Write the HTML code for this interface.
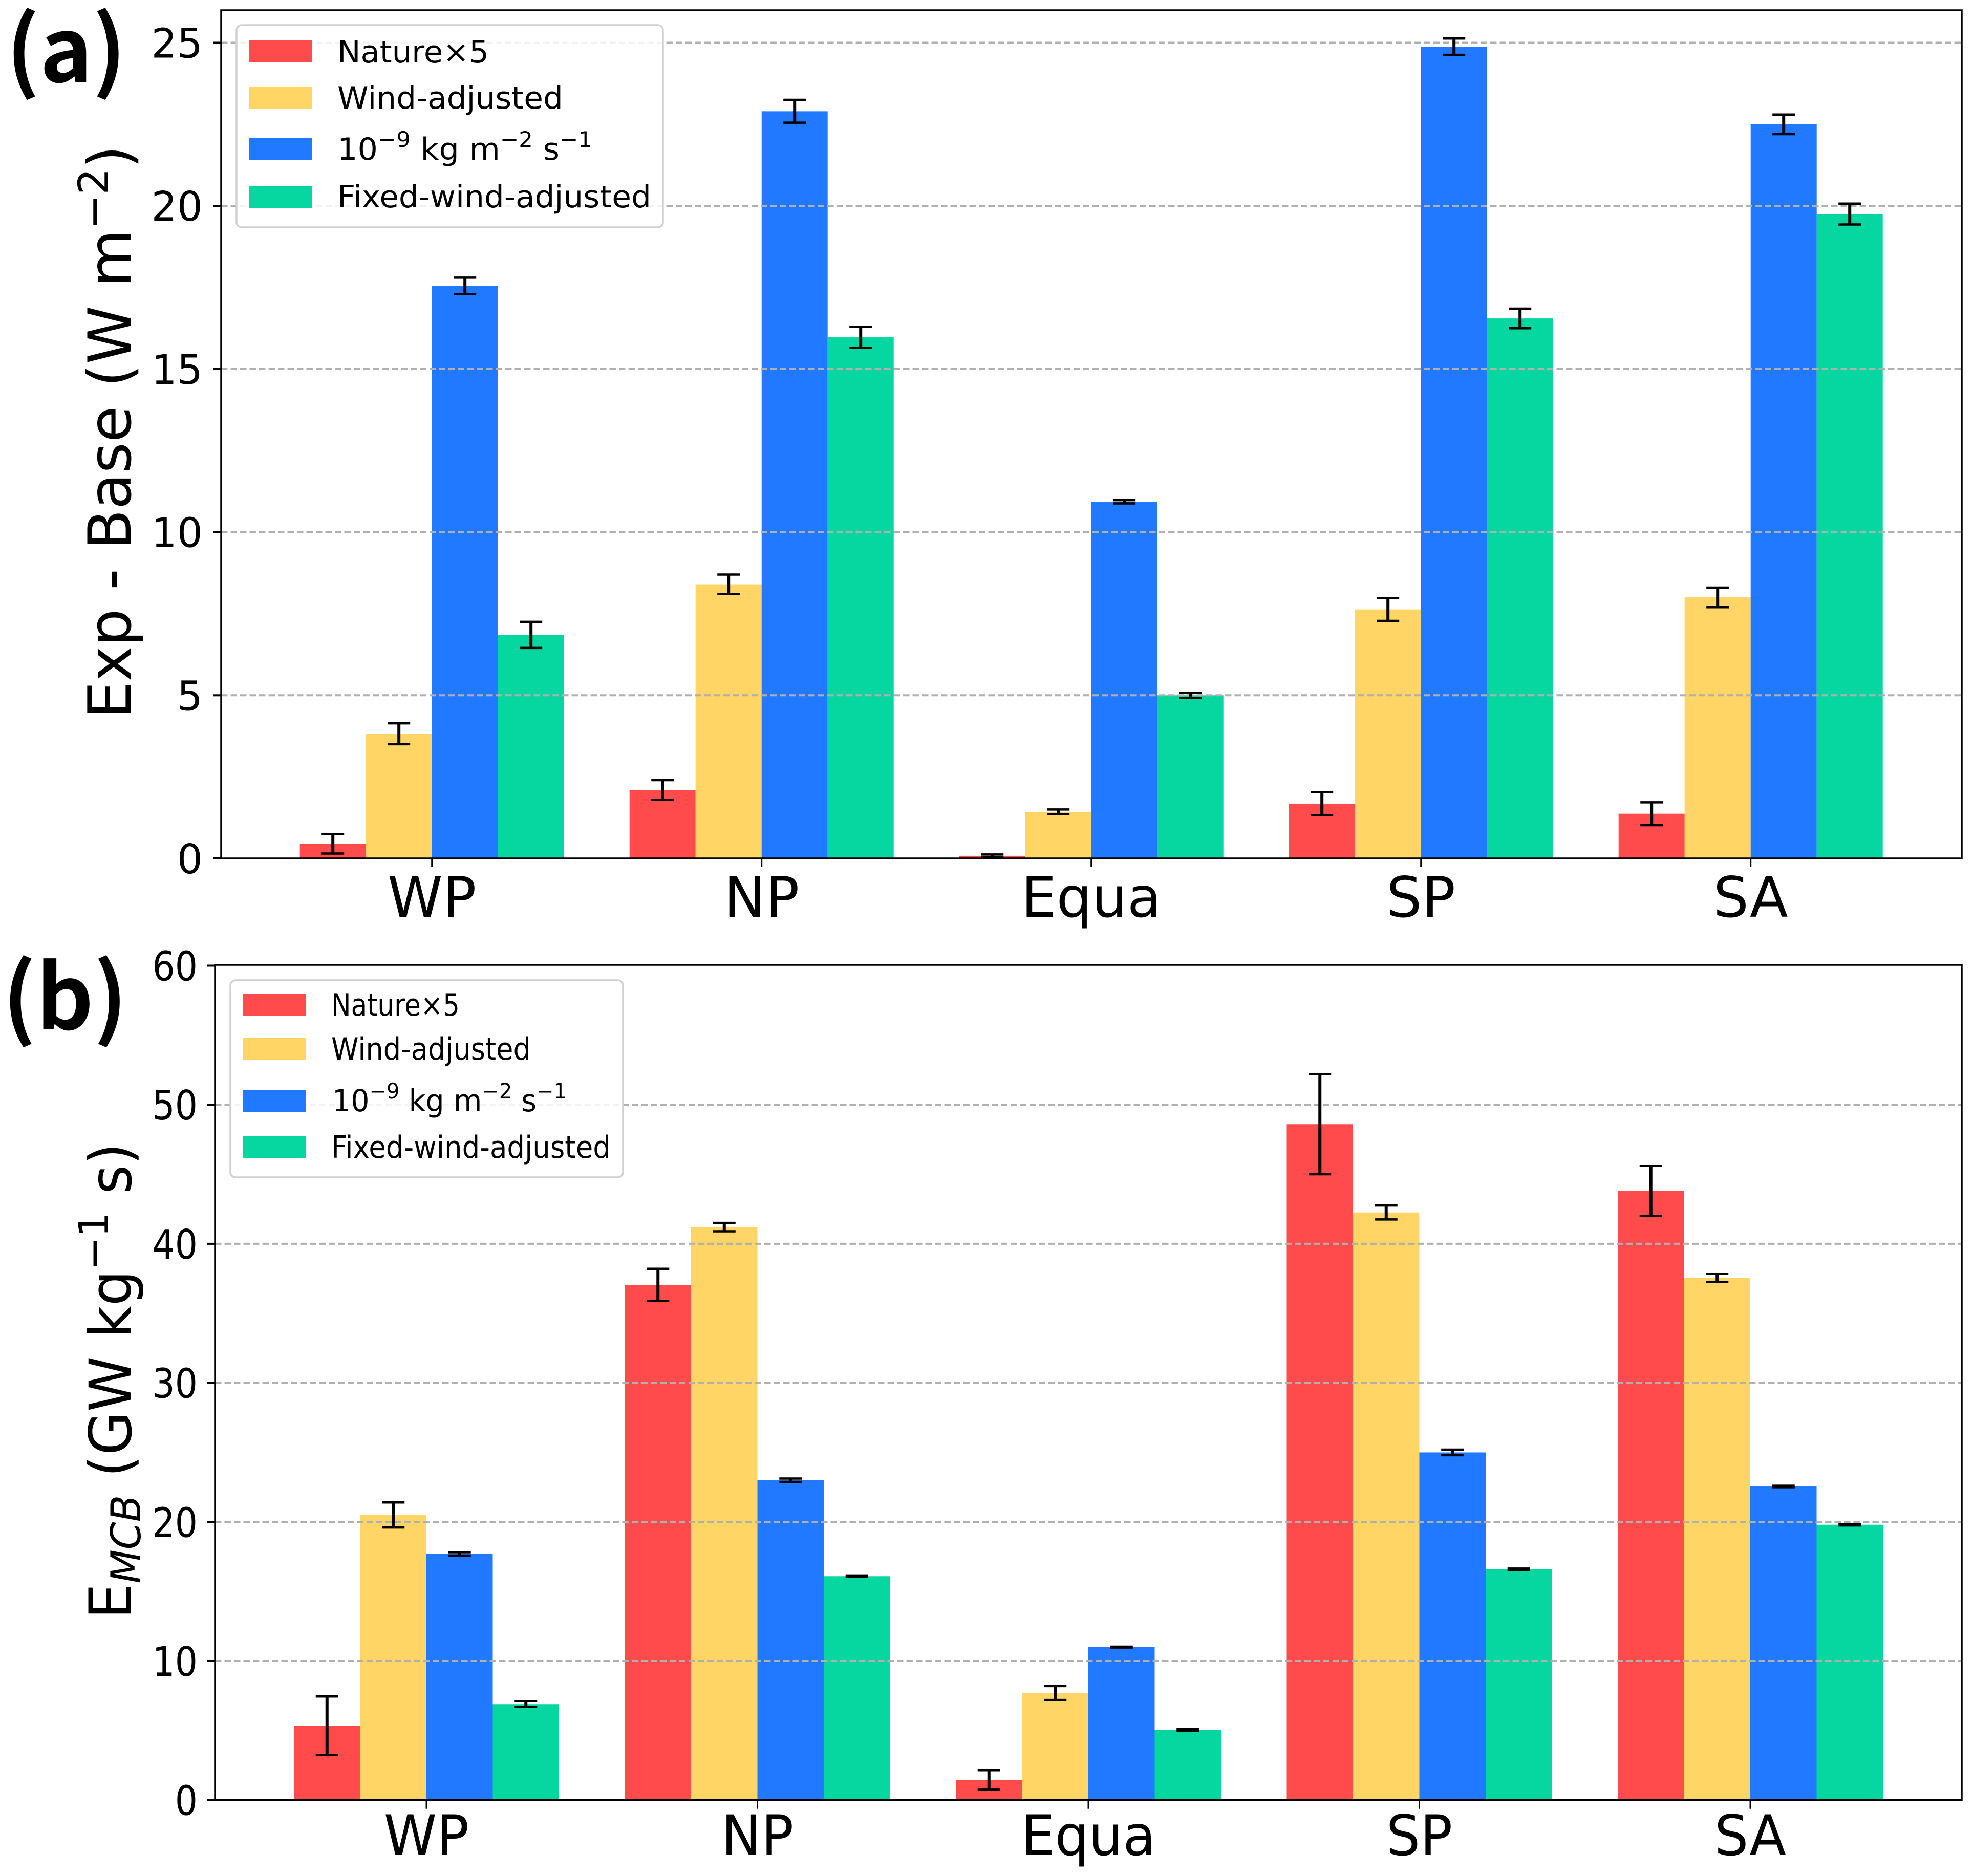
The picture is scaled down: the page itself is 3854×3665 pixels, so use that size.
<!DOCTYPE html>
<html lang="en">
<head>
<meta charset="utf-8">
<title>Exp - Base and E_MCB bar charts</title>
<style>
html,body{margin:0;padding:0;background:#fff;}
svg{display:block;}
text{font-family:"DejaVu Sans","Liberation Sans",sans-serif;fill:#000;}
.panel-tag{font-family:"Noto Sans CJK JP","Liberation Sans",sans-serif;font-weight:700;}
</style>
</head>
<body>
<svg id="figure" xmlns="http://www.w3.org/2000/svg" width="3854" height="3665" viewBox="0 0 3854 3665">
  <rect x="0" y="0" width="3854" height="3665" fill="#ffffff"/>
  <g id="chart-a"></g>
  <g id="chart-b"></g>

  <text class="panel-tag" x="12" y="160" font-size="174">(a)</text>
  <text class="panel-tag" x="5" y="2011" font-size="174">(b)</text>

  <text class="fit" data-w="1120" transform="translate(255,1404) rotate(-90)" font-size="116">Exp - Base (W m<tspan dy="-44" font-size="81">−2</tspan><tspan dy="44">)</tspan></text>
  <text class="fit" data-w="930" transform="translate(256,3163) rotate(-90)" font-size="114">E<tspan dy="18" font-size="80" font-style="italic">MCB</tspan><tspan dy="-18"> (GW kg</tspan><tspan dy="-45" font-size="80">−1</tspan><tspan dy="45"> s)</tspan></text>

  <g>
    <rect x="462" y="49" width="833" height="395" rx="10" ry="10" fill="#ffffff" fill-opacity="0.85" stroke="#d0d0d0" stroke-width="3.5"/>
    <rect x="487" y="79" width="122" height="43" fill="#ff4b4b"/>
    <rect x="487" y="169" width="122" height="43" fill="#ffd566"/>
    <rect x="487" y="270" width="122" height="43" fill="#2079ff"/>
    <rect x="487" y="363" width="122" height="43" fill="#06d6a0"/>
    <text class="fit" data-w="296" transform="translate(659,122)" font-size="60">Nature×5</text>
    <text class="fit" data-w="441" transform="translate(659,212)" font-size="60">Wind-adjusted</text>
    <text class="fit" data-w="498" transform="translate(659,312)" font-size="60">10<tspan dy="-25" font-size="42">−9</tspan><tspan dy="25"> kg m</tspan><tspan dy="-25" font-size="42">−2</tspan><tspan dy="25"> s</tspan><tspan dy="-25" font-size="42">−1</tspan></text>
    <text class="fit" data-w="613" transform="translate(659,405)" font-size="60">Fixed-wind-adjusted</text>
  </g>

  <g>
    <rect x="450" y="1915" width="767" height="385" rx="10" ry="10" fill="#ffffff" fill-opacity="0.85" stroke="#d0d0d0" stroke-width="3.5"/>
    <rect x="474" y="1941" width="123" height="43" fill="#ff4b4b"/>
    <rect x="474" y="2028" width="123" height="43" fill="#ffd566"/>
    <rect x="474" y="2129" width="123" height="43" fill="#2079ff"/>
    <rect x="474" y="2219" width="123" height="43" fill="#06d6a0"/>
    <text class="fit" data-w="251" transform="translate(647,1984)" font-size="60">Nature×5</text>
    <text class="fit" data-w="390" transform="translate(647,2070)" font-size="60">Wind-adjusted</text>
    <text class="fit" data-w="458" transform="translate(649,2171)" font-size="60">10<tspan dy="-25" font-size="42">−9</tspan><tspan dy="25"> kg m</tspan><tspan dy="-25" font-size="42">−2</tspan><tspan dy="25"> s</tspan><tspan dy="-25" font-size="42">−1</tspan></text>
    <text class="fit" data-w="546" transform="translate(647,2262)" font-size="60">Fixed-wind-adjusted</text>
  </g>
</svg>

<script>
// ---- data ----
const categories = ["WP", "NP", "Equa", "SP", "SA"];
const seriesKeys = ["nature", "wind-adjusted", "emission-rate", "fixed-wind-adjusted"];
const seriesColors = ["#ff4b4b", "#ffd566", "#2079ff", "#06d6a0"];

// Panel (a): Exp - Base (W m-2), one row per series
const aNature = [0.45, 2.1, 0.08, 1.68, 1.37];
const aWind   = [3.82, 8.4, 1.43, 7.63, 8.0];
const aRate   = [17.55, 22.9, 10.93, 24.88, 22.5];
const aFixed  = [6.85, 15.97, 5.0, 16.55, 19.75];
const aNatureErr = [0.3, 0.3, 0.04, 0.35, 0.35];
const aWindErr   = [0.32, 0.3, 0.07, 0.35, 0.3];
const aRateErr   = [0.25, 0.35, 0.05, 0.25, 0.3];
const aFixedErr  = [0.4, 0.32, 0.08, 0.3, 0.32];
const aTicks = [0, 5, 10, 15, 20, 25];

// Panel (b): E_MCB (GW kg-1 s)
const bNature = [5.35, 37.05, 1.45, 48.6, 43.8];
const bWind   = [20.5, 41.2, 7.7, 42.25, 37.55];
const bRate   = [17.7, 23.0, 11.0, 25.0, 22.55];
const bFixed  = [6.9, 16.1, 5.05, 16.6, 19.8];
const bNatureErr = [2.1, 1.15, 0.7, 3.6, 1.8];
const bWindErr   = [0.9, 0.3, 0.5, 0.5, 0.3];
const bRateErr   = [0.12, 0.12, 0.03, 0.2, 0.05];
const bFixedErr  = [0.2, 0.05, 0.05, 0.05, 0.05];
const bTicks = [0, 10, 20, 30, 40, 50, 60];

const SVGNS = "http://www.w3.org/2000/svg";

function make(tag, attrs, parent) {
  const el = document.createElementNS(SVGNS, tag);
  for (const k in attrs) el.setAttribute(k, attrs[k]);
  parent.appendChild(el);
  return el;
}

function drawPanel(cfg) {
  const root = document.getElementById(cfg.id);
  const xScale = (i) => cfg.tick0 + i * cfg.step;
  const yScale = (v) => cfg.y0 - v * cfg.unit;
  const barW = cfg.barW;

  // bars
  cfg.values.forEach(function (vals, s) {
    vals.forEach(function (v, c) {
      const y = yScale(v);
      const bar = make("rect", {
        x: xScale(c) + (s - 2) * barW,
        y: y,
        width: barW,
        height: cfg.y0 - y,
        fill: seriesColors[s]
      }, root);
      
      
    });
  });

  // grid lines, drawn over bars
  cfg.ticks.forEach(function (t) {
    if (t === 0 || t === cfg.yMaxAtTop) return;
    const line = make("line", {
      x1: cfg.left, x2: cfg.right, y1: yScale(t), y2: yScale(t),
      stroke: "#b0b0b0", "stroke-width": 4, "stroke-dasharray": "12.5 6"
    }, root);
    
    
  });

  // error bars
  cfg.values.forEach(function (vals, s) {
    vals.forEach(function (v, c) {
      const cx = xScale(c) + (s - 1.5) * barW;
      const g = make("g", { stroke: "#000", fill: "none" }, root);
      
      
      const hi = yScale(v + cfg.errors[s][c]);
      const lo = yScale(v - cfg.errors[s][c]);
      make("line", { x1: cx, x2: cx, y1: hi, y2: lo, "stroke-width": 6 }, g);
      make("line", { x1: cx - 22, x2: cx + 22, y1: hi, y2: hi, "stroke-width": 4.5 }, g);
      make("line", { x1: cx - 22, x2: cx + 22, y1: lo, y2: lo, "stroke-width": 4.5 }, g);
    });
  });

  // axes frame
  const frame = make("rect", {
    x: cfg.left, y: cfg.top, width: cfg.right - cfg.left, height: cfg.y0 - cfg.top,
    fill: "none", stroke: "#000", "stroke-width": 3.5
  }, root);
  
  

  // y ticks + labels
  cfg.ticks.forEach(function (t) {
    const y = yScale(t);
    const tick = make("line", {
      x1: cfg.left - 16, x2: cfg.left, y1: y, y2: y, stroke: "#000", "stroke-width": 4
    }, root);
    
    
    const label = make("text", {
      transform: "translate(" + cfg.yLabelRight + "," + (y + 29) + ") scale(" + cfg.yLabelScale + ",1)",
      "font-size": 79,
      "text-anchor": "end"
    }, root);
    label.textContent = String(t);
    
    
  });

  // x ticks + labels
  categories.forEach(function (name, c) {
    const x = xScale(c);
    const tick = make("line", {
      x1: x, x2: x, y1: cfg.y0, y2: cfg.y0 + 17, stroke: "#000", "stroke-width": 3
    }, root);
    
    
    const label = make("text", {
      transform: "translate(" + x + "," + cfg.xLabelBase + ") scale(" + cfg.xLabelScale + ",1)",
      "font-size": 109,
      "text-anchor": "middle"
    }, root);
    label.textContent = name;
    
    
  });
}

drawPanel({
  id: "chart-a",
  left: 432, right: 3832, top: 20, y0: 1677,
  tick0: 843.7, step: 644, barW: 129,
  unit: 63.74,
  ticks: aTicks,
  yMaxAtTop: null,
  values: [aNature, aWind, aRate, aFixed],
  errors: [aNatureErr, aWindErr, aRateErr, aFixedErr],
  yLabelRight: 396, yLabelScale: 1,
  xLabelBase: 1791, xLabelScale: 1
});

drawPanel({
  id: "chart-b",
  left: 420, right: 3832, top: 1885, y0: 3516.7,
  tick0: 833, step: 646.5, barW: 129.5,
  unit: 27.17,
  ticks: bTicks,
  yMaxAtTop: 60,
  values: [bNature, bWind, bRate, bFixed],
  errors: [bNatureErr, bWindErr, bRateErr, bFixedErr],
  yLabelRight: 386, yLabelScale: 0.88,
  xLabelBase: 3624, xLabelScale: 0.96
});

// squeeze labels to the measured widths in the figure
document.querySelectorAll("text.fit").forEach(function (el) {
  const target = parseFloat(el.getAttribute("data-w"));
  const len = el.getComputedTextLength();
  if (len > 0) {
    el.setAttribute("transform", el.getAttribute("transform") + " scale(" + (target / len) + ",1)");
  }
});
</script>
</body>
</html>
